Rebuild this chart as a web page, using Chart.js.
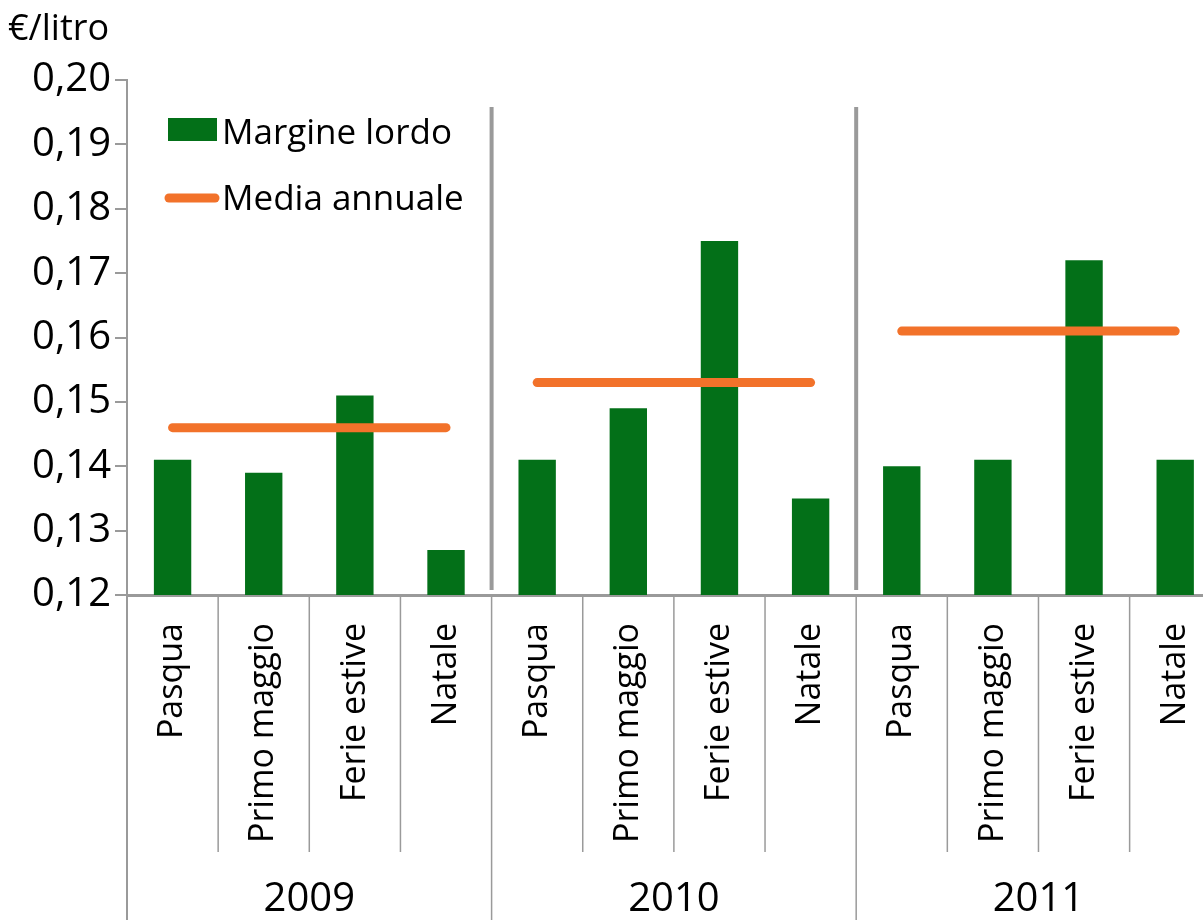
<!DOCTYPE html>
<html>
<head>
<meta charset="utf-8">
<script src="https://cdn.jsdelivr.net/npm/chart.js@4.4.1/dist/chart.umd.min.js"></script>
<style>
    html, body { margin: 0; padding: 0; background: #fff; overflow: hidden; }
    #wrap { width: 1203px; height: 920px; overflow: hidden; }
</style>
</head>
<body>
<div id="wrap"><canvas id="chart" width="1236" height="920"></canvas></div>
<script>
// Data
const years = ['2009', '2010', '2011'];
const periods = ['Pasqua', 'Primo maggio', 'Ferie estive', 'Natale'];
const margineLordo = [0.141, 0.139, 0.151, 0.127, 0.141, 0.149, 0.175, 0.135, 0.140, 0.141, 0.172, 0.141];
const mediaAnnuale = [0.146, 0.153, 0.161];
const yMin = 0.12;
const yMax = 0.20;
const yStep = 0.01;

const GREEN = '#037018';
const ORANGE = '#F2722A';
const GREY = '#9A9A9A';
const FONT = 'Open Sans';

// One category per (year, period)
const labels = years.flatMap(() => periods);

// One line dataset per year so the segments don't join up
const mediaDatasets = years.map((year, i) => ({
    type: 'line',
    label: 'Media annuale ' + year,
    data: labels.map((_, idx) => Math.floor(idx / periods.length) === i ? mediaAnnuale[i] : null),
    borderColor: ORANGE,
    borderWidth: 9,
    borderCapStyle: 'round',
    pointRadius: 0,
    fill: false,
    order: 0
}));

// Extra drawing: year separators, lower axis grid, year labels, legend, unit
const decorPlugin = {
    id: 'decor',
    afterDraw(chart) {
        const ctx = chart.ctx;
        const x = chart.scales.x;
        const area = chart.chartArea;
        const step = x.getPixelForValue(1) - x.getPixelForValue(0);
        const edge = k => x.getPixelForValue(k) - step / 2;

        ctx.save();
        ctx.strokeStyle = GREY;

        // year separators inside the plot
        ctx.lineWidth = 4;
        for (let k = periods.length; k < labels.length; k += periods.length) {
            ctx.beginPath();
            ctx.moveTo(edge(k), 107);
            ctx.lineTo(edge(k), area.bottom - 5);
            ctx.stroke();
        }

        // category boundaries below the axis
        ctx.lineWidth = 1.5;
        for (let k = 0; k <= labels.length; k++) {
            const bottom = k % periods.length === 0 ? 920 : 852;
            ctx.beginPath();
            ctx.moveTo(edge(k), area.bottom);
            ctx.lineTo(edge(k), bottom);
            ctx.stroke();
        }

        // left axis continues down
        ctx.lineWidth = 2;
        ctx.beginPath();
        ctx.moveTo(area.left, area.bottom);
        ctx.lineTo(area.left, 920);
        ctx.stroke();

        // year labels
        ctx.fillStyle = '#000';
        ctx.font = '40px "' + FONT + '"';
        ctx.textAlign = 'center';
        ctx.textBaseline = 'middle';
        years.forEach((year, i) => {
            const mid = (x.getPixelForValue(i * periods.length) + x.getPixelForValue(i * periods.length + periods.length - 1)) / 2;
            ctx.fillText(year, mid, 900);
        });

        // unit label
        ctx.textAlign = 'left';
        ctx.font = '36px "' + FONT + '"';
        ctx.fillText('€/litro', 8, 30);

        // legend
        ctx.fillStyle = GREEN;
        ctx.fillRect(168, 118, 49, 23);
        ctx.strokeStyle = ORANGE;
        ctx.lineWidth = 9;
        ctx.lineCap = 'round';
        ctx.beginPath();
        ctx.moveTo(169, 198);
        ctx.lineTo(215, 198);
        ctx.stroke();
        ctx.fillStyle = '#000';
        ctx.font = '35px "' + FONT + '"';
        ctx.fillText('Margine lordo', 222, 134);
        ctx.fillText('Media annuale', 222, 200);

        ctx.restore();
    }
};

new Chart(document.getElementById('chart'), {
    data: {
        labels: labels,
        datasets: [
            {
                type: 'bar',
                label: 'Margine lordo',
                data: margineLordo,
                backgroundColor: GREEN,
                categoryPercentage: 1,
                barPercentage: 0.41,
                order: 1
            },
            ...mediaDatasets
        ]
    },
    options: {
        responsive: false,
        animation: false,
        devicePixelRatio: 1,
        layout: { padding: { top: 80, left: 0, right: 0, bottom: 0 } },
        plugins: {
            legend: { display: false },
            title: { display: false },
            tooltip: { enabled: false }
        },
        scales: {
            x: {
                offset: true,
                grid: { display: false },
                border: { display: true, color: GREY, width: 3 },
                ticks: {
                    autoSkip: false,
                    minRotation: 90,
                    maxRotation: 90,
                    padding: 20,
                    color: '#000',
                    font: { family: FONT, size: 34 }
                },
                afterFit: scale => { scale.height = 325; }
            },
            y: {
                min: yMin,
                max: yMax,
                grid: { drawOnChartArea: false, drawTicks: true, tickLength: 12, color: GREY, lineWidth: 2 },
                border: { display: true, color: GREY, width: 2 },
                ticks: {
                    stepSize: yStep,
                    padding: 4,
                    color: '#000',
                    font: { family: FONT, size: 40 },
                    callback: v => v.toFixed(2).replace('.', ',')
                },
                afterFit: scale => { scale.width = 127; }
            }
        }
    },
    plugins: [decorPlugin]
});
</script>
</body>
</html>
